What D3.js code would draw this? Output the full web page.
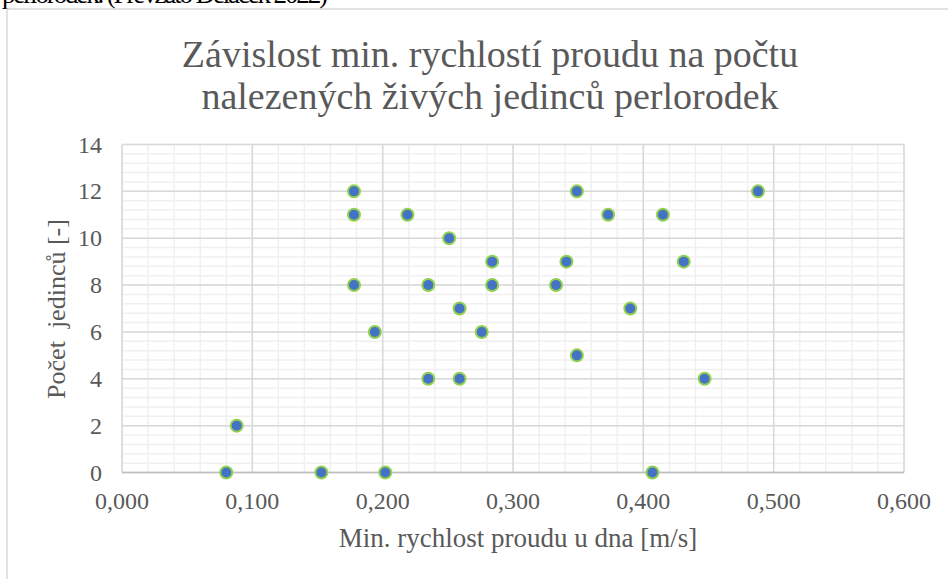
<!DOCTYPE html>
<html>
<head>
<meta charset="utf-8">
<script src="https://cdn.jsdelivr.net/npm/d3@7"></script>
<style>
  body { margin: 0; background: #fff; }
  svg { display: block; }
</style>
</head>
<body>
<div id="chart"></div>
<script>
// values
var titleLines = ["Závislost min. rychlostí proudu na počtu", "nalezených živých jedinců perlorodek"];
var xTitle = "Min. rychlost proudu u dna [m/s]";
var yTitle = "Počet  jedinců [-]";
var speed = [0.178, 0.178, 0.178, 0.194, 0.088, 0.080, 0.153, 0.202,
    0.219, 0.251, 0.284, 0.235, 0.284, 0.259, 0.276, 0.235, 0.259,
    0.349, 0.373, 0.415, 0.488, 0.341, 0.431, 0.333, 0.390, 0.349, 0.447, 0.407];
var count = [12, 11, 8, 6, 2, 0, 0, 0,
    11, 10, 9, 8, 8, 7, 6, 4, 4,
    12, 11, 11, 12, 9, 9, 8, 7, 5, 4, 0];
var xTicks = [0, 0.1, 0.2, 0.3, 0.4, 0.5, 0.6];
var yTicks = [0, 2, 4, 6, 8, 10, 12, 14];

var width = 948, height = 579;
var plot = { left: 122, right: 904, top: 144.5, bottom: 472.5 };
var font = "'Liberation Serif', 'Times New Roman', serif";
var grey = "#595959";

var svg = d3.select("#chart").append("svg")
    .attr("width", width).attr("height", height);

// clipped caption line from the page above
svg.append("text")
    .text("perlorodek. (Převzato Deláček 2022)")
    .attr("x", 2).attr("y", 3)
    .attr("textLength", 326)
    .style("font-family", font).style("font-size", "27px").style("fill", "#000");

// chart frame
svg.append("rect")
    .attr("x", 7).attr("y", 9).attr("width", 960).attr("height", 600)
    .style("fill", "#fff").style("stroke", "#d9d9d9").style("stroke-width", 1.5);

var x = d3.scaleLinear().domain([0, 0.6]).range([plot.left, plot.right]);
var y = d3.scaleLinear().domain([0, 14]).range([plot.bottom, plot.top]);

// minor gridlines
svg.append("g").selectAll("line")
    .data(d3.range(0, 0.6001, 0.02))
    .enter().append("line")
    .attr("x1", d => x(d)).attr("x2", d => x(d))
    .attr("y1", plot.top).attr("y2", plot.bottom)
    .style("stroke", "#f0f0f0").style("stroke-width", 1.5);
svg.append("g").selectAll("line")
    .data(d3.range(0, 14.001, 0.4))
    .enter().append("line")
    .attr("x1", plot.left).attr("x2", plot.right)
    .attr("y1", d => y(d)).attr("y2", d => y(d))
    .style("stroke", "#f0f0f0").style("stroke-width", 1.5);

// major gridlines
svg.append("g").selectAll("line")
    .data(xTicks)
    .enter().append("line")
    .attr("x1", d => x(d)).attr("x2", d => x(d))
    .attr("y1", plot.top).attr("y2", plot.bottom)
    .style("stroke", "#d9d9d9").style("stroke-width", 1.5);
svg.append("g").selectAll("line")
    .data(yTicks)
    .enter().append("line")
    .attr("x1", plot.left).attr("x2", plot.right)
    .attr("y1", d => y(d)).attr("y2", d => y(d))
    .style("stroke", "#d9d9d9").style("stroke-width", 1.5);

// x axis line
svg.append("line")
    .attr("x1", plot.left).attr("x2", plot.right)
    .attr("y1", y(0)).attr("y2", y(0))
    .style("stroke", "#bfbfbf").style("stroke-width", 1.5);

// tick labels
var fmt = d3.format(".3f");
svg.append("g").selectAll("text")
    .data(xTicks)
    .enter().append("text")
    .text(d => fmt(d).replace(".", ","))
    .attr("x", d => x(d)).attr("y", 509)
    .attr("text-anchor", "middle")
    .style("font-family", font).style("font-size", "24px").style("fill", grey);
svg.append("g").selectAll("text")
    .data(yTicks)
    .enter().append("text")
    .text(d => d)
    .attr("x", 102).attr("y", d => y(d) + 8)
    .attr("text-anchor", "end")
    .style("font-family", font).style("font-size", "24px").style("fill", grey);

// titles
svg.append("g").selectAll("text")
    .data(titleLines)
    .enter().append("text")
    .text(d => d)
    .attr("x", 490).attr("y", (d, i) => 67 + i * 42)
    .attr("text-anchor", "middle")
    .style("font-family", font).style("font-size", "38px").style("fill", grey);

svg.append("text")
    .text(xTitle)
    .attr("x", 518).attr("y", 547)
    .attr("text-anchor", "middle")
    .style("font-family", font).style("font-size", "27px").style("fill", grey);

svg.append("text")
    .text(yTitle)
    .attr("transform", "translate(65," + 309 + ") rotate(-90)")
    .attr("text-anchor", "middle")
    .style("white-space", "pre")
    .style("font-family", font).style("font-size", "26px").style("fill", grey);

// points
svg.append("g").selectAll("circle")
    .data(speed)
    .enter().append("circle")
    .attr("cx", d => x(d))
    .attr("cy", (d, i) => y(count[i]))
    .attr("r", 6)
    .style("fill", "#4472c4")
    .style("stroke", "#92d050")
    .style("stroke-width", 2);
</script>
</body>
</html>
